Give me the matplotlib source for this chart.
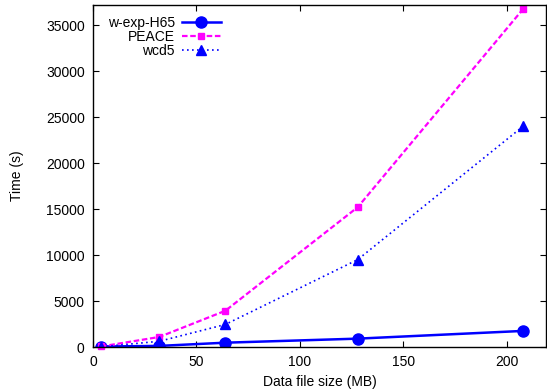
import matplotlib
matplotlib.use("Agg")
import matplotlib.pyplot as plt

# data
sizes_mb = [4, 32, 64, 128, 208]
wexp_h65 = [50, 120, 470, 910, 1750]
peace = [60, 1090, 3940, 15200, 36750]
wcd5 = [30, 620, 2450, 9500, 24000]

plt.rcParams['font.family'] = ['Liberation Sans', 'DejaVu Sans']
plt.rcParams['font.size'] = 10

fig = plt.figure(figsize=(5.47, 3.91), dpi=100)
ax = fig.add_axes([0.170, 0.1125, 0.828, 0.874])

ax.plot(sizes_mb, wexp_h65, color='#0000ff', linestyle='-', linewidth=1.8,
        marker='o', markersize=8, label='w-exp-H65')
ax.plot(sizes_mb, peace, color='#ff00ff', linestyle=(0, (2.5, 1.2)), linewidth=1.6,
        marker='s', markersize=4.5, label='PEACE', clip_on=False)
ax.plot(sizes_mb, wcd5, color='#0000ff', linestyle=(0, (1, 2)), linewidth=1.2,
        marker='^', markersize=7, label='wcd5')

ax.set_xlim(0, 219)
ax.set_ylim(0, 37150)
ax.set_xticks([0, 50, 100, 150, 200])
ax.set_yticks(range(0, 35001, 5000))
ax.tick_params(direction='in', top=True, right=True, length=4, width=0.8, pad=6)
for s in ax.spines.values():
    s.set_linewidth(1.0)

ax.set_xlabel('Data file size (MB)', labelpad=4)
ax.set_ylabel('Time (s)', labelpad=16)

# gnuplot style key: label right-aligned, sample after it
ax.legend(loc='upper left', markerfirst=False, frameon=False,
          handlelength=2.8, handletextpad=0.5, labelspacing=0.0,
          borderaxespad=0.0, bbox_to_anchor=(0.02, 0.985))

fig.savefig('out.png', dpi=100)
